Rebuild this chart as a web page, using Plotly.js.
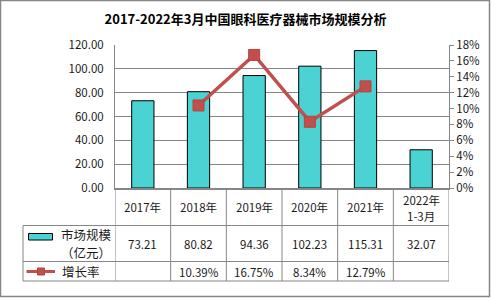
<!DOCTYPE html>
<html><head><meta charset="utf-8">
<script src="https://cdn.plot.ly/plotly-3.0.1.min.js"></script>
<style>html,body{margin:0;padding:0;background:#fff}#chart{width:491px;height:298px}</style>
</head><body><div id="chart"></div>
<script>
var categories = ['2017','2018','2019','2020','2021','2022Q1'];
var tickLabels = [['2017年'],['2018年'],['2019年'],['2020年'],['2021年'],['2022年','1-3月']];
var marketSize = [73.21, 80.82, 94.36, 102.23, 115.31, 32.07];
var growthRate = [null, 10.39, 16.75, 8.34, 12.79, null];
var seriesNames = ['市场规模', '（亿元）', '增长率'];
var titleText = '2017-2022年3月中国眼科医疗器械市场规模分析';

var W = 491, H = 298, ML = 115, MR = 42, MT = 45, MB = 110;
var PW = W - ML - MR, PH = H - MT - MB;
function px(x){ return (x - ML) / PW; }
function py(y){ return (H - MB - y) / PH; }

var FONT = '"Noto Sans CJK SC", "Microsoft YaHei", sans-serif';
var TXT = '#1a1a1a';
var GRID = '#868686';
var BAR = '#4BD3D3';
var RED = '#C0504D';

var traces = [
  {type:'bar', x:categories, y:marketSize, width:0.4,
   marker:{color:BAR, line:{color:'#000', width:1}}, hoverinfo:'none', showlegend:false},
  {type:'scatter', mode:'lines+markers', x:categories, y:growthRate.map(function(v){return v==null?null:v/100;}),
   yaxis:'y2', line:{color:RED, width:3.5},
   marker:{symbol:'square', size:11, color:RED, line:{color:'#B9403D', width:1}},
   hoverinfo:'none', showlegend:false}
];

var shapes = [];
var ann = [];
function hline(y, x0, x1){ shapes.push({type:'line', xref:'paper', yref:'paper', x0:px(x0), x1:px(x1), y0:py(y), y1:py(y), line:{color:GRID, width:1}}); }
// outer border
shapes.push({type:'rect', xref:'paper', yref:'paper', x0:px(0.5), x1:px(489.5), y0:py(0.5), y1:py(296.5), line:{color:GRID, width:1.5}});
// table horizontal lines
hline(225.5, 23, 449); hline(261.5, 23, 449); hline(281, 23, 449);
// left legend column border
shapes.push({type:'line', xref:'paper', yref:'paper', x0:px(23), x1:px(23), y0:py(225.5), y1:py(281), line:{color:GRID, width:1}});
// column separators
for (var i = 0; i <= categories.length; i++) {
  shapes.push({type:'line', xref:'x', yref:'paper', x0:i-0.5, x1:i-0.5, y0:py(188), y1:py(281), line:{color:GRID, width:1}});
}
// legend keys
shapes.push({type:'rect', xref:'paper', yref:'paper', x0:px(28.5), x1:px(52.5), y0:py(233.5), y1:py(240), fillcolor:BAR, line:{color:'#000', width:1}});
shapes.push({type:'line', xref:'paper', yref:'paper', x0:px(26.5), x1:px(55), y0:py(271.5), y1:py(271.5), line:{color:RED, width:3}});
shapes.push({type:'rect', xref:'paper', yref:'paper', x0:px(37.5), x1:px(44.5), y0:py(268), y1:py(275), fillcolor:RED, line:{color:'#B9403D', width:1}});

var cellFont = {family:FONT, size:11.5, color:TXT};
for (var j = 0; j < categories.length; j++) {
  var lines = tickLabels[j];
  if (lines.length === 1) {
    ann.push({xref:'x', yref:'paper', x:j, y:py(207.5), text:lines[0], showarrow:false, font:cellFont, xanchor:'center', yanchor:'middle'});
  } else {
    ann.push({xref:'x', yref:'paper', x:j, y:py(200), text:lines[0], showarrow:false, font:cellFont, xanchor:'center', yanchor:'middle'});
    ann.push({xref:'x', yref:'paper', x:j, y:py(215.5), text:lines[1], showarrow:false, font:cellFont, xanchor:'center', yanchor:'middle'});
  }
  ann.push({xref:'x', yref:'paper', x:j, y:py(243.5), text:marketSize[j].toFixed(2), showarrow:false, font:cellFont, xanchor:'center', yanchor:'middle'});
  if (growthRate[j] != null)
    ann.push({xref:'x', yref:'paper', x:j, y:py(271.5), text:growthRate[j].toFixed(2)+'%', showarrow:false, font:cellFont, xanchor:'center', yanchor:'middle'});
}
var legFont = {family:FONT, size:12.5, color:TXT};
ann.push({xref:'paper', yref:'paper', x:px(86), y:py(234.5), text:seriesNames[0], showarrow:false, font:legFont, xanchor:'center', yanchor:'middle'});
ann.push({xref:'paper', yref:'paper', x:px(86), y:py(252.5), text:seriesNames[1], showarrow:false, font:legFont, xanchor:'center', yanchor:'middle'});
ann.push({xref:'paper', yref:'paper', x:px(60), y:py(271.5), text:seriesNames[2], showarrow:false, font:legFont, xanchor:'left', yanchor:'middle'});

var layout = {
  width:W, height:H, margin:{l:ML, r:MR, t:MT, b:MB, pad:0},
  paper_bgcolor:'#fff', plot_bgcolor:'#fff',
  title:{text:'<b>'+titleText+'</b>', font:{family:FONT, size:13, color:'#000'}, x:0.5, xref:'container', y:1-19/H, yref:'container', yanchor:'middle', xanchor:'center'},
  font:{family:FONT, size:11, color:TXT},
  xaxis:{type:'category', range:[-0.5, 5.5], showticklabels:false, ticks:'', showgrid:false,
         showline:true, linecolor:GRID, linewidth:2, zeroline:false, fixedrange:true},
  yaxis:{range:[0,120], dtick:20, tickformat:'.2f', showgrid:true, gridcolor:GRID, gridwidth:1,
         showline:true, linecolor:GRID, linewidth:1, zeroline:false, ticks:'', ticklabelstandoff:8,
         tickfont:{family:FONT, size:11.5, color:TXT}},
  yaxis2:{overlaying:'y', side:'right', range:[0,0.18], dtick:0.02, tickformat:'.0%', showgrid:false,
          showline:true, linecolor:GRID, linewidth:1, ticks:'outside', ticklen:4, tickcolor:GRID, zeroline:false,
          tickfont:{family:FONT, size:11.5, color:TXT}},
  bargap:0.6, showlegend:false, shapes:shapes, annotations:ann
};
Plotly.newPlot('chart', traces, layout, {displayModeBar:false, staticPlot:true});
</script></body></html>
